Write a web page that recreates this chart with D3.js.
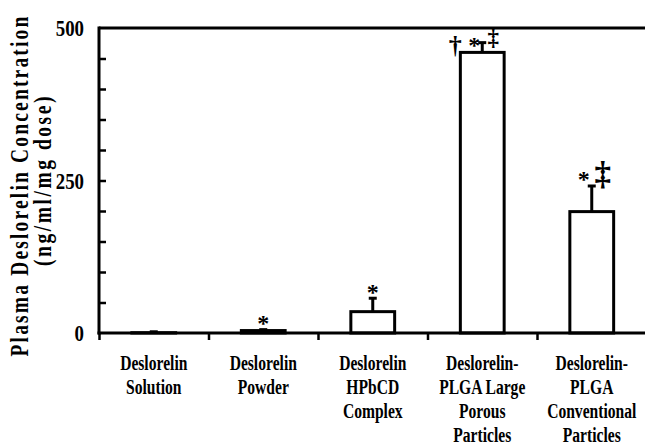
<!DOCTYPE html>
<html><head><meta charset="utf-8">
<script src="https://cdn.jsdelivr.net/npm/d3@7"></script>
<style>
html,body{margin:0;padding:0;background:#fff;}
svg{display:block;font-family:"Liberation Serif","Times New Roman",serif;font-weight:bold;}
</style></head><body>
<svg id="chart" width="645" height="447"></svg>
<script>
// Formulation groups (multi-line category labels)
const categories = [
  ["Deslorelin", "Solution"],
  ["Deslorelin", "Powder"],
  ["Deslorelin", "HPbCD", "Complex"],
  ["Deslorelin-", "PLGA Large", "Porous", "Particles"],
  ["Deslorelin-", "PLGA", "Conventional", "Particles"]
];
// Mean plasma concentration (ng/ml/mg dose) and SD
const means = [0.5, 4, 35, 460, 199];
const sds = [1.5, 1.5, 22, 16, 42];
// Significance symbols above each bar
const marks = [[], ["*"], ["*"], ["\u2020", "*", "\u2021"], ["*", "\u2021"]];
const yTicks = [0, 250, 500];
const yMinorTicks = [50, 100, 150, 200, 300, 350, 400, 450];
const yTitle = ["Plasma Deslorelin Concentration", "(ng/ml/mg dose)"];

const svg = d3.select("#chart");
const plotLeft = 99, plotRight = 646.5, plotTop = 28, plotBottom = 333;

const x = d3.scaleBand().domain(d3.range(categories.length)).range([plotLeft, plotRight]);
const y = d3.scaleLinear().domain([0, 500]).range([plotBottom, plotTop]);
const barW = x.bandwidth() * 0.4;

// inward minor ticks on the value axis
const minor = svg.append("g").attr("transform", `translate(${plotLeft},0)`)
  .call(d3.axisRight(y).tickValues(yMinorTicks.concat([250])).tickSize(7).tickFormat(""));
minor.select(".domain").remove();
minor.selectAll(".tick line").attr("stroke", "#000").attr("stroke-width", 2.5);

// value axis labels
const yl = svg.append("g").attr("transform", `translate(${plotLeft},0)`)
  .call(d3.axisLeft(y).tickValues(yTicks).tickSize(0).tickPadding(0));
yl.select(".domain").remove();
yl.selectAll(".tick text").remove();
yl.selectAll(".tick").append("text")
  .attr("transform", "translate(-15,0) scale(0.82,1)")
  .attr("text-anchor", "end").attr("dy", "0.34em")
  .attr("fill", "#000").style("font-size", "23px").style("font-weight", "bold")
  .style("font-family", "'Liberation Serif', serif")
  .text(d => d);

// category boundary ticks below the baseline
const bounds = d3.range(categories.length).map(i => x(i));
const xt = svg.append("g").attr("transform", `translate(0,${plotBottom})`)
  .call(d3.axisBottom(d3.scaleLinear().domain([plotLeft, plotRight]).range([plotLeft, plotRight]))
    .tickValues(bounds).tickSize(7).tickFormat(""));
xt.select(".domain").remove();
xt.selectAll(".tick line").attr("stroke", "#000").attr("stroke-width", 2.5);

// frame lines
svg.append("line").attr("x1", plotLeft).attr("x2", 645).attr("y1", plotTop).attr("y2", plotTop)
  .attr("stroke", "#000").attr("stroke-width", 3);
svg.append("line").attr("x1", plotLeft).attr("x2", plotLeft).attr("y1", plotTop - 1.5).attr("y2", plotBottom + 1.5)
  .attr("stroke", "#000").attr("stroke-width", 3);

// bars
const groups = svg.append("g").selectAll("g").data(means).join("g");
groups.append("rect")
  .attr("x", (d, i) => x(i) + x.bandwidth() / 2 - barW / 2)
  .attr("y", d => y(d))
  .attr("width", barW)
  .attr("height", d => plotBottom - y(d))
  .attr("fill", "#fff").attr("stroke", "#000").attr("stroke-width", 3);

// error bars (upper only)
groups.append("line")
  .attr("x1", (d, i) => x(i) + x.bandwidth() / 2)
  .attr("x2", (d, i) => x(i) + x.bandwidth() / 2)
  .attr("y1", d => y(d))
  .attr("y2", (d, i) => y(d + sds[i]))
  .attr("stroke", "#000").attr("stroke-width", 3);
groups.append("line")
  .attr("x1", (d, i) => x(i) + x.bandwidth() / 2 - 4)
  .attr("x2", (d, i) => x(i) + x.bandwidth() / 2 + 4)
  .attr("y1", (d, i) => y(d + sds[i]))
  .attr("y2", (d, i) => y(d + sds[i]))
  .attr("stroke", "#000").attr("stroke-width", 3);

// x axis baseline
svg.append("line").attr("x1", plotLeft - 1.5).attr("x2", 645).attr("y1", plotBottom).attr("y2", plotBottom)
  .attr("stroke", "#000").attr("stroke-width", 3);

// significance symbols
const symDx = {"\u2020": -27, "*": -8, "\u2021": 11};
const symRise = {"\u2020": 0.27, "*": 0.47, "\u2021": 0.27};
marks.forEach((ms, i) => {
  const cx = x(i) + x.bandwidth() / 2;
  const errTop = y(means[i] + sds[i]);
  const want = errTop - 10;
  const clamped = want < plotTop + 14;
  const cy = clamped ? plotTop + 14 : want;
  ms.forEach(m => {
    const fs = m === "*" ? 24 : (clamped ? (m === "\u2020" ? 26 : 23) : 33);
    const dx = ms.length === 1 ? 0 : symDx[m];
    const dy = clamped ? ({"\u2020": 5, "*": 0, "\u2021": -3}[m]) : 0;
    svg.append("text")
      .attr("x", cx + dx)
      .attr("y", cy + dy + symRise[m] * fs)
      .attr("text-anchor", "middle")
      .style("font-size", fs + "px")
      .text(m);
  });
});

// category labels
categories.forEach((lines, i) => {
  const cx = x(i) + x.bandwidth() / 2;
  lines.forEach((t, j) => {
    svg.append("text")
      .attr("transform", `translate(${cx},${370 + j * 24}) scale(0.78,1)`)
      .attr("text-anchor", "middle")
      .style("font-size", "20px")
      .text(t);
  });
});

// value axis title, condensed glyphs with open tracking
svg.append("text")
  .attr("transform", "translate(28,185.5) rotate(-90) scale(0.75,1)")
  .attr("text-anchor", "middle")
  .style("font-size", "26px")
  .style("letter-spacing", "2.9px")
  .text(yTitle[0]);
svg.append("text")
  .attr("transform", "translate(51,180) rotate(-90) scale(0.75,1)")
  .attr("text-anchor", "middle")
  .style("font-size", "26px")
  .style("letter-spacing", "3.4px")
  .text(yTitle[1]);
</script>
</body></html>
